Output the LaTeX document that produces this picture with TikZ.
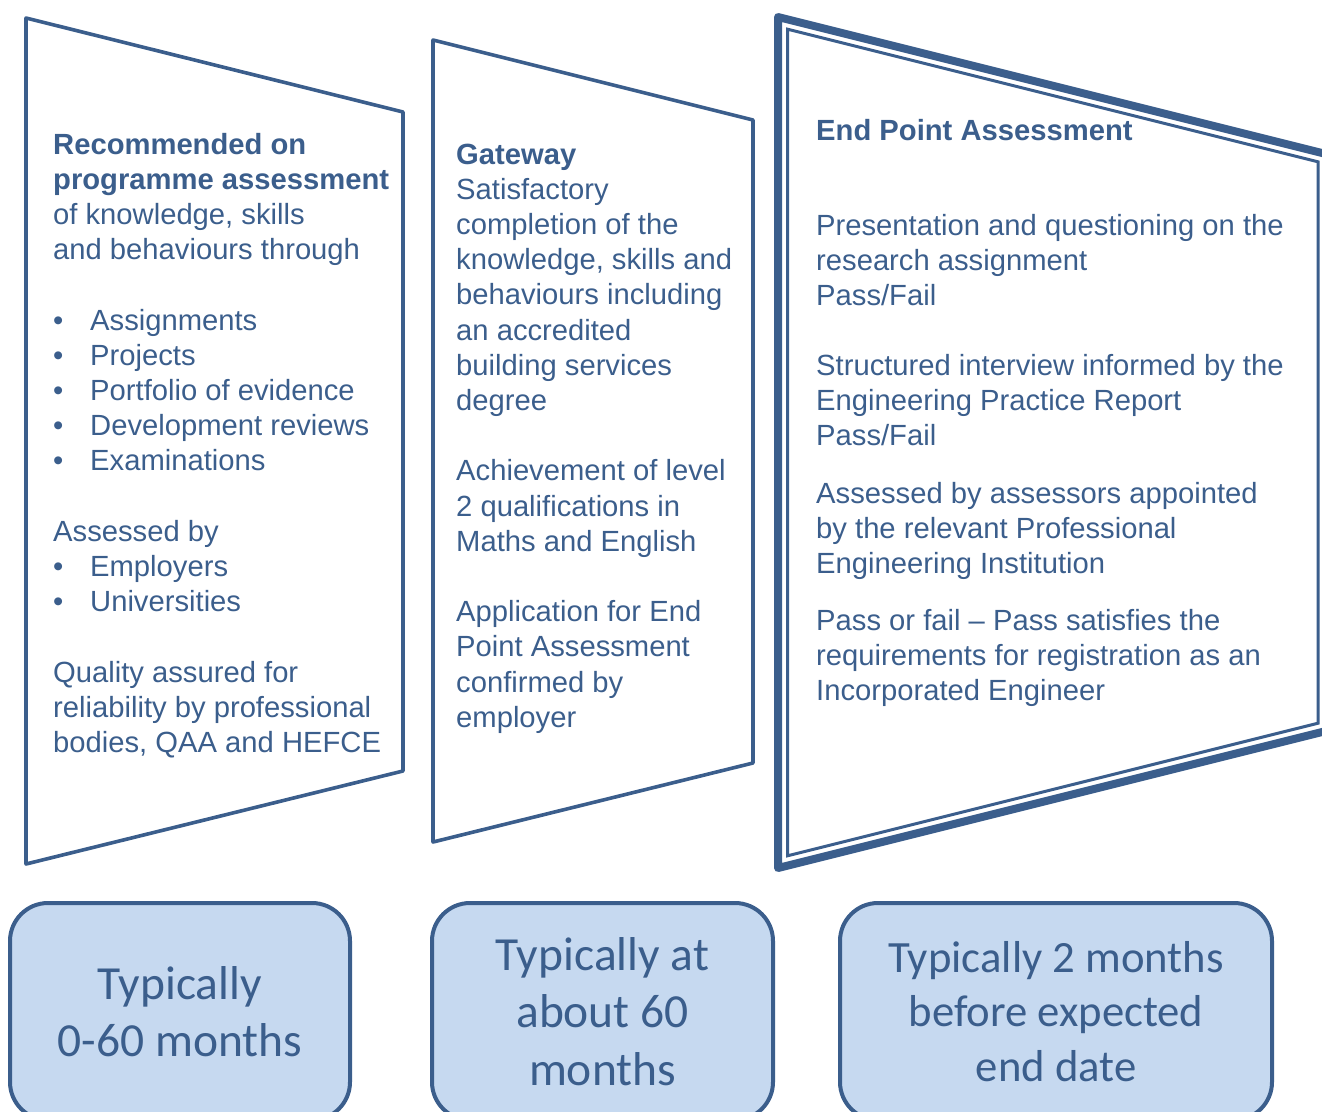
\documentclass[tikz,border=0pt]{standalone}
\usepackage{fontspec}
\setmainfont{Liberation Sans}
\newfontfamily\carl{Carlito}
\definecolor{ink}{RGB}{59,94,140}
\definecolor{boxfill}{RGB}{198,217,240}
\tikzset{
  ln/.style={anchor=base west, inner sep=0pt, text=ink, font=\fontsize{29.2}{35.2}\selectfont},
  lnb/.style={ln, font=\fontsize{29.2}{35.2}\selectfont\bfseries},
  panel/.style={draw=ink, line width=3.6pt, line join=round},
  timebox/.style={draw=ink, fill=boxfill, line width=4pt, rounded corners=38pt,
    align=center, text=ink, inner sep=0pt},
}
\newcommand{\bul}[1]{\makebox[37pt][l]{•}#1}
\begin{document}
\begin{tikzpicture}[x=1pt,y=-1pt]
\useasboundingbox (0,0) rectangle (1322,1111);
% panels
\draw[panel] (26,18) -- (403,112) -- (403,771) -- (26,864) -- cycle;
\draw[panel] (433,40) -- (753,120) -- (753,763) -- (433,842) -- cycle;
\draw[draw=ink, line width=8pt, line join=round] (778,17) -- (1328,154.5) -- (1328,730.5) -- (778,868) -- cycle;
\draw[draw=ink, line width=3pt, line join=miter] (787.5,29.2) -- (1318,161.8) -- (1318,723.2) -- (787.5,855.8) -- cycle;
% panel 1 text
\node[lnb] (a0) at (53,154.0) {Recommended on};
\node[lnb] (a1) at (53,189.2) {programme assessment};
\node[ln] (a2) at (53,224.4) {of knowledge, skills};
\node[ln] (a3) at (53,259.6) {and behaviours through};
\node[ln] (a5) at (53,330.0) {\bul{Assignments}};
\node[ln] (a6) at (53,365.2) {\bul{Projects}};
\node[ln] (a7) at (53,400.4) {\bul{Portfolio of evidence}};
\node[ln] (a8) at (53,435.6) {\bul{Development reviews}};
\node[ln] (a9) at (53,470.8) {\bul{Examinations}};
\node[ln] (a11) at (53,541.2) {Assessed by};
\node[ln] (a12) at (53,576.4) {\bul{Employers}};
\node[ln] (a13) at (53,611.6) {\bul{Universities}};
\node[ln] (a15) at (53,682.0) {Quality assured for};
\node[ln] (a16) at (53,717.2) {reliability by professional};
\node[ln] (a17) at (53,752.4) {bodies, QAA and HEFCE};
% panel 2 text
\node[lnb] (b0) at (456,164.0) {Gateway};
\node[ln] (b1) at (456,199.2) {Satisfactory};
\node[ln] (b2) at (456,234.4) {completion of the};
\node[ln] (b3) at (456,269.6) {knowledge, skills and};
\node[ln] (b4) at (456,304.8) {behaviours including};
\node[ln] (b5) at (456,340.0) {an accredited};
\node[ln] (b6) at (456,375.2) {building services};
\node[ln] (b7) at (456,410.4) {degree};
\node[ln] (b9) at (456,480.8) {Achievement of level};
\node[ln] (b10) at (456,516.0) {2 qualifications in};
\node[ln] (b11) at (456,551.2) {Maths and English};
\node[ln] (b13) at (456,621.6) {Application for End};
\node[ln] (b14) at (456,656.8) {Point Assessment};
\node[ln] (b15) at (456,692.0) {confirmed by};
\node[ln] (b16) at (456,727.2) {employer};
% panel 3 text
\node[lnb] (c0) at (816,140) {End Point Assessment};
\node[ln] (c1) at (816,235) {Presentation and questioning on the};
\node[ln] (c2) at (816,270) {research assignment};
\node[ln] (c3) at (816,305) {Pass/Fail};
\node[ln] (c4) at (816,375) {Structured interview informed by the};
\node[ln] (c5) at (816,410) {Engineering Practice Report};
\node[ln] (c6) at (816,445) {Pass/Fail};
\node[ln] (c7) at (816,503) {Assessed by assessors appointed};
\node[ln] (c8) at (816,538) {by the relevant Professional};
\node[ln] (c9) at (816,573) {Engineering Institution};
\node[ln] (c10) at (816,630) {Pass or fail – Pass satisfies the};
\node[ln] (c11) at (816,665) {requirements for registration as an};
\node[ln] (c12) at (816,700) {Incorporated Engineer};
% bottom boxes
\node[timebox, minimum width=340pt, minimum height=217pt,
  font=\carl\fontsize{47.5}{57}\selectfont] (t1) at (180,1011.5) {Typically\\0-60 months};
\node[timebox, minimum width=341pt, minimum height=217pt,
  font=\carl\fontsize{47.5}{57.5}\selectfont] (t2) at (602.5,1011.5) {Typically at\\about 60\\months};
\node[timebox, minimum width=432pt, minimum height=217pt,
  font=\carl\fontsize{44.7}{54.5}\selectfont] (t3) at (1056,1011.5) {Typically 2 months\\before expected\\end date};
\end{tikzpicture}
\end{document}
